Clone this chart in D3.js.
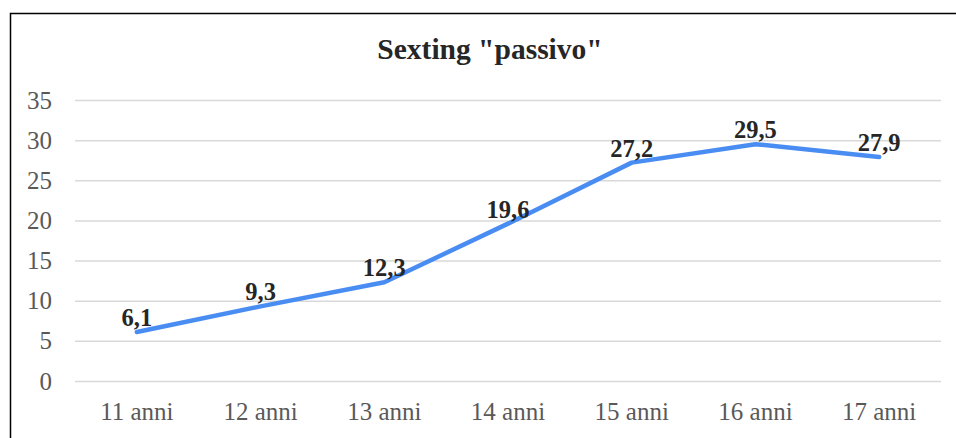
<!DOCTYPE html>
<html>
<head>
<meta charset="utf-8">
<script src="https://cdn.jsdelivr.net/npm/d3@7"></script>
<style>
    body { margin: 0; background: #fff; }
    svg { display: block; font-family: "Liberation Serif", "DejaVu Serif", serif; }
</style>
</head>
<body>
<svg id="chart" width="956" height="438"></svg>
<script>
// data
let categories = ['11 anni', '12 anni', '13 anni', '14 anni', '15 anni', '16 anni', '17 anni'];
let values = [6.1, 9.3, 12.3, 19.6, 27.2, 29.5, 27.9];
let yTicks = [0, 5, 10, 15, 20, 25, 30, 35];
let title = 'Sexting "passivo"';

var config = {
    left: 75,
    right: 941,
    top: 100,
    bottom: 381
}

let svg = d3.select('#chart');

// outer frame, cut off by the window on the right and bottom
svg.append('rect')
    .attr('x', 10.5)
    .attr('y', 13.5)
    .attr('width', 960)
    .attr('height', 440)
    .attr('fill', 'none')
    .attr('stroke', '#000')
    .attr('stroke-width', 1.5);

let x = d3.scaleBand()
    .domain(categories)
    .range([config.left, config.right]);

let y = d3.scaleLinear()
    .domain([0, 35])
    .range([config.bottom, config.top]);

svg.append('text')
    .attr('x', 490)
    .attr('y', 59)
    .attr('text-anchor', 'middle')
    .attr('font-size', 29.5)
    .attr('font-weight', 'bold')
    .attr('fill', '#262626')
    .text(title);

// gridlines + y labels
let yAxis = svg.append('g')
    .attr('transform', 'translate(' + config.left + ',0)')
    .call(d3.axisLeft(y).tickValues(yTicks).tickSize(-(config.right - config.left)).tickPadding(23));
yAxis.select('.domain').remove();
yAxis.selectAll('line')
    .attr('stroke', '#d9d9d9')
    .attr('stroke-width', 1.5);
yAxis.selectAll('text')
    .attr('font-family', '"Liberation Serif", serif')
    .attr('font-size', 25)
    .attr('fill', '#595959');

let xAxis = svg.append('g')
    .attr('transform', 'translate(0,' + config.bottom + ')')
    .call(d3.axisBottom(x).tickSize(0).tickPadding(21));
xAxis.select('.domain').remove();
xAxis.selectAll('text')
    .attr('font-family', '"Liberation Serif", serif')
    .attr('font-size', 25)
    .attr('fill', '#595959');

let line = d3.line()
    .x(function(d, i) { return x(categories[i]) + x.bandwidth() / 2 })
    .y(function(d) { return y(d) });

svg.append('path')
    .datum(values)
    .attr('d', line)
    .attr('fill', 'none')
    .attr('stroke', '#4a8df2')
    .attr('stroke-width', 4.5)
    .attr('stroke-linecap', 'round')
    .attr('stroke-linejoin', 'round');

svg.selectAll('text.label')
    .data(values)
    .join('text')
    .attr('class', 'label')
    .attr('x', function(d, i) { return x(categories[i]) + x.bandwidth() / 2 })
    .attr('y', function(d) { return y(d) - 6 })
    .attr('text-anchor', 'middle')
    .attr('font-size', 24.5)
    .attr('font-weight', 'bold')
    .attr('fill', '#262626')
    .text(function(d) { return String(d).replace('.', ',') });
</script>
</body>
</html>
